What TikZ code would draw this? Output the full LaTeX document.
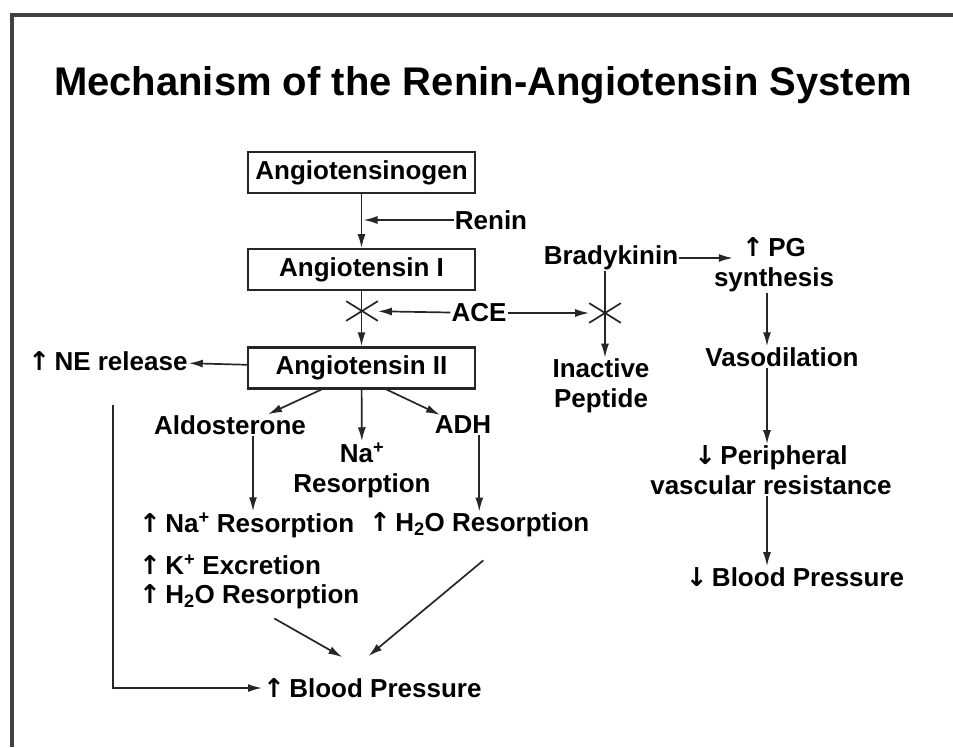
\documentclass[tikz,border=0pt]{standalone}
\usepackage{fontspec}
\setmainfont{Liberation Sans}
\newfontfamily\arrfont{DejaVu Sans}
\usepackage{tikz}
\usetikzlibrary{arrows.meta,positioning,calc,shapes.misc}
\newcommand{\rastxt}{\fontsize{26}{30}\selectfont\bfseries}
\newcommand{\upar}{{\arrfont\bfseries ↑}}
\newcommand{\dnar}{{\arrfont\bfseries ↓}}
\tikzstyle{box} = [rectangle, draw=black!85, line width=2.2pt, minimum width=227pt,
    minimum height=41pt, inner sep=0pt, font=\rastxt]
\tikzstyle{lbl} = [inner sep=1pt, align=center, font=\rastxt]
\tikzstyle{arrow} = [line width=1.7pt, draw=black!85, -{Latex[length=14pt,width=8pt]}]
\tikzstyle{xmark} = [cross out, draw=black!85, line width=1.7pt, minimum width=30pt,
    minimum height=18pt, inner sep=0pt]

\begin{document}
\begin{tikzpicture}[x=1pt, y=-1pt]
\useasboundingbox (0,0) rectangle (953,747);
\fill[white] (0,0) rectangle (953,747);
\draw[line width=3.5pt, black!75] (953,15) -- (12,15) -- (12,747);

% ── Title ────
\node[font=\fontsize{40}{44}\selectfont\bfseries] (title) at (483,85) {Mechanism of the Renin-Angiotensin System};

% ── Cascade ────
\node[box] (agen) at (361.5,172.5) {Angiotensinogen};
\node[box, below=54pt of agen] (ang1) {Angiotensin I};
\node[box, below=55pt of ang1] (ang2) {Angiotensin II};
\node[lbl] (renin) at (491,220) {Renin};
\node[xmark] (acex) at (362,311) {};
\node[lbl] (ace) at (479,313) {ACE};
\node[lbl] (ne) at (108,361) {\upar\,NE release};

% ── Effects of angiotensin II ────
\node[lbl] (aldo) at (230,425) {Aldosterone};
\node[lbl] (nares) at (362,470) {Na\textsuperscript{+}\\Resorption};
\node[lbl] (adh) at (463,425) {ADH};
\node[lbl, anchor=west] (naup) at (138,525) {\upar\,Na\textsuperscript{+} Resorption};
\node[lbl, anchor=west] (h2oadh) at (368,525) {\upar\,H\textsubscript{2}O Resorption};
\node[lbl, anchor=west] (kup) at (138,565) {\upar\,K\textsuperscript{+} Excretion};
\node[lbl, anchor=west] (h2oup) at (138,597) {\upar\,H\textsubscript{2}O Resorption};
\node[lbl, anchor=west] (bpup) at (262,688) {\upar\,Blood Pressure};

% ── Bradykinin branch ────
\node[lbl] (brady) at (611,258) {Bradykinin};
\node[lbl] (pg) at (774,265) {\upar\,PG\\synthesis};
\node[xmark] (bkx) at (605,313) {};
\node[lbl] (inact) at (601,386) {Inactive\\Peptide};
\node[lbl] (vaso) at (782,357) {Vasodilation};
\node[lbl] (periph) at (771,470) {\dnar\,Peripheral\\vascular resistance};
\node[lbl] (bpdown) at (795,577) {\dnar\,Blood Pressure};

\coordinate (vx) at (767,0);
\coordinate (aldoout) at ($(aldo.south)+(23,0)$);
\coordinate (nefree) at (113,405);

% ── Arrows ────
\draw[arrow] (agen) -- (ang1);
\draw[arrow, shorten >=2pt] (renin) -- (renin -| agen);
\draw[arrow] (ang1) -- (ang2);
\draw[arrow] (ace) -- (acex);
\draw[arrow] (ace) -- (bkx);
\draw[arrow] (ang2) -- (ne);
\draw[arrow] ($(ang2.south)+(-40,0)$) -- ($(aldo.north)+(38,0)$);
\draw[arrow] (ang2) -- (nares);
\draw[arrow] ($(ang2.south)+(25,0)$) -- ($(adh.north)+(-23,0)$);
\draw[arrow] (aldoout) -- (aldoout |- naup.north);
\draw[arrow] (adh.south -| h2oadh) -- (h2oadh.north);
\draw[arrow] ($(h2oup.south)+(25,8)$) -- ($(bpup.north)+(-30,-20)$);
\draw[arrow] ($(h2oadh.south)+(4,22)$) -- ($(bpup.north)+(-4,-21)$);
\draw[arrow] (nefree) |- (bpup.west);
\draw[arrow] (brady.south -| bkx) -- (inact.north -| bkx);
\draw[arrow, shorten >=-20pt] (brady.east) -- (brady.east -| pg.west);
\draw[arrow] (pg.south -| vx) -- (vaso.north -| vx);
\draw[arrow] (vaso.south -| vx) -- (periph.north -| vx);
\draw[arrow] (periph.south -| vx) -- (bpdown.north -| vx);

\end{tikzpicture}
\end{document}
